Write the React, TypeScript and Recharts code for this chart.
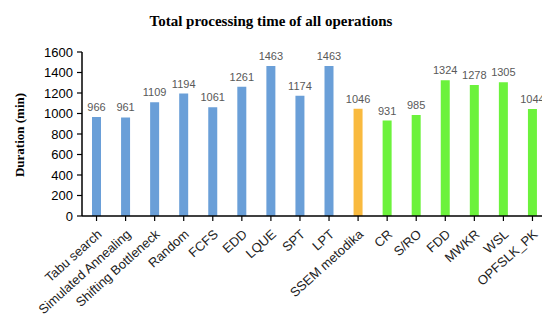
import { BarChart, Bar, XAxis, YAxis, Cell, LabelList } from "recharts"

const methods = [
  "Tabu search", "Simulated Annealing", "Shifting Bottleneck", "Random", "FCFS", "EDD",
  "LQUE", "SPT", "LPT", "SSEM metodika", "CR", "S/RO", "FDD", "MWKR", "WSL", "OPFSLK_PK"
]
const durations = [966, 961, 1109, 1194, 1061, 1261, 1463, 1174, 1463, 1046, 931, 985, 1324, 1278, 1305, 1044]
const groups = [
  "meta", "meta", "meta", "rule", "rule", "rule", "rule", "rule", "rule",
  "ssem", "rule2", "rule2", "rule2", "rule2", "rule2", "rule2"
]
const yTicks = [0, 200, 400, 600, 800, 1000, 1200, 1400, 1600]

const groupColors: Record<string, string> = {
  meta: "#6a9fd8",
  rule: "#6a9fd8",
  ssem: "#f9ba3f",
  rule2: "#6cf23c"
}

const data = methods.map((name, i) => ({ name, value: durations[i], group: groups[i] }))

function XTick(props: any) {
  const { x, y, payload } = props
  return (
    <g transform={`translate(${x + 3},${y + 9})`}>
      <text
        transform="rotate(-42)"
        textAnchor="end"
        dy="0.35em"
        fontSize={13}
        fontFamily="'Liberation Sans', Arial, sans-serif"
        fill="#222"
      >
        {payload.value}
      </text>
    </g>
  )
}

export default function App() {
  return (
    <div style={{ position: "fixed", left: 0, top: 0, width: 542, height: 322, overflow: "hidden", background: "#fff" }}>
      <div
        style={{
          position: "absolute", left: 0, width: 542, top: 13, textAlign: "center",
          fontFamily: "'Liberation Serif', serif", fontWeight: "bold", fontSize: 15
        }}
      >
        Total processing time of all operations
      </div>
      <div
        style={{
          position: "absolute", left: 20, top: 135, width: 0, height: 0
        }}
      >
        <div
          style={{
            position: "absolute", transform: "translate(-50%, -50%) rotate(-90deg)", whiteSpace: "nowrap",
            fontFamily: "'Liberation Serif', serif", fontWeight: "bold", fontSize: 13
          }}
        >
          Duration (min)
        </div>
      </div>
      <div style={{ position: "absolute", left: 0, top: 0 }}>
        <BarChart
          width={560}
          height={322}
          data={data}
          margin={{ top: 52, right: 13, left: 0, bottom: 0 }}
          barCategoryGap="0%"
        >
          <XAxis
            dataKey="name"
            interval={0}
            height={106}
            tick={<XTick />}
            tickSize={5}
            axisLine={{ stroke: "#000", strokeWidth: 1.5 }}
            tickLine={{ stroke: "#000", strokeWidth: 1.2 }}
          />
          <YAxis
            width={82}
            domain={[0, 1600]}
            ticks={yTicks}
            interval={0}
            tickSize={5}
            tickMargin={4}
            axisLine={{ stroke: "#000", strokeWidth: 1.5 }}
            tickLine={{ stroke: "#000", strokeWidth: 1.2 }}
            tick={{ fontSize: 13, fill: "#000", fontFamily: "'Liberation Sans', Arial, sans-serif" }}
          />
          <Bar dataKey="value" barSize={9} isAnimationActive={false}>
            {data.map((d, i) => (
              <Cell key={i} fill={groupColors[d.group]} />
            ))}
            <LabelList
              dataKey="value"
              position="top"
              offset={6}
              fill="#595959"
              fontSize={11}
              fontFamily="'Liberation Sans', Arial, sans-serif"
            />
          </Bar>
        </BarChart>
      </div>
    </div>
  )
}
